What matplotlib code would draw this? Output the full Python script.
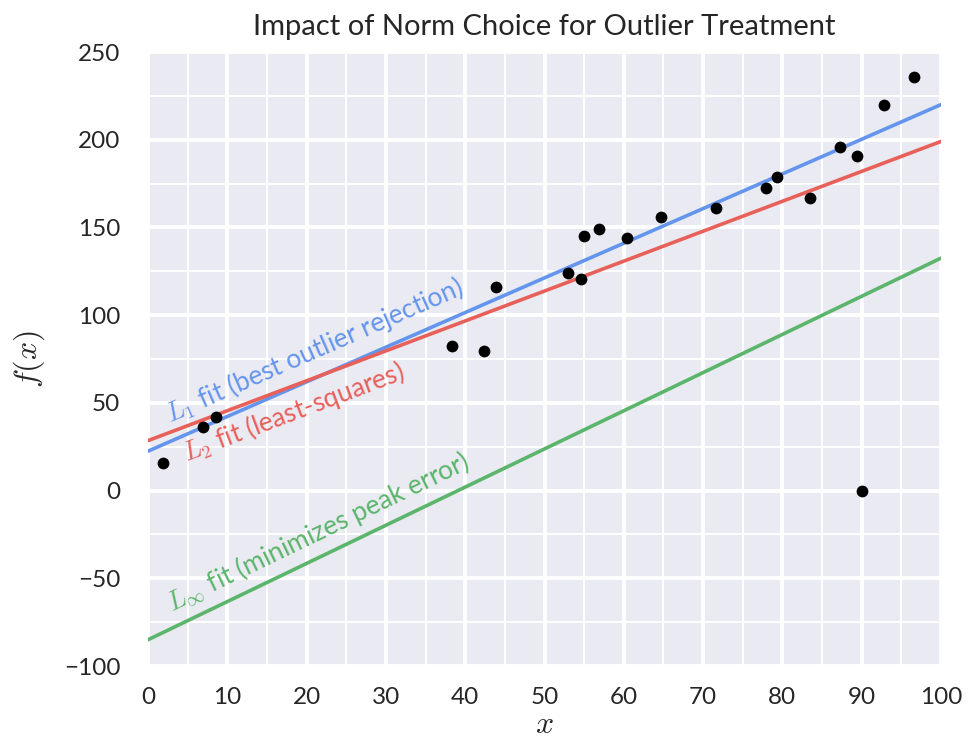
import numpy as np
import matplotlib
matplotlib.use("Agg")
import matplotlib.pyplot as plt
from matplotlib.ticker import MultipleLocator
import seaborn as sns

sns.set_theme(style="darkgrid")
plt.rcParams['font.family'] = ['Lato', 'DejaVu Sans']
plt.rcParams['mathtext.fontset'] = 'cm'

# data points
x_pts = [1.9, 6.9, 8.6, 38.3, 42.4, 43.9, 53.0, 54.6, 55.0, 56.9, 60.4, 64.7,
         71.6, 77.9, 79.3, 83.5, 87.3, 89.4, 90.0, 92.8, 96.6]
y_pts = [15.5, 36.5, 42.0, 82.5, 79.5, 116.0, 124.0, 120.5, 145.0, 149.0, 144.0, 156.0,
         161.0, 172.5, 179.0, 167.0, 196.0, 191.0, 0.0, 220.0, 235.5]

# fitted lines: intercept, slope
fit_names = ["L1", "L2", "Linf"]
fit_intercepts = [22.5, 28.5, -85.0]
fit_slopes = [1.975, 1.705, 2.175]
fit_colors = ["#6495ED", "#E8605A", "#5BB56B"]
fit_labels = [r"$L_1$ fit (best outlier rejection)",
              r"$L_2$ fit (least-squares)",
              r"$L_\infty$ fit (minimizes peak error)"]
label_x = [2.8, 4.9, 3.0]
label_offset = [11.0, -20.5, 9.5]

fig = plt.figure(figsize=(9.68, 7.43), dpi=100)
ax = fig.add_axes([0.153, 0.1036, 0.819, 0.8264])
ax.set_facecolor("#EAEAF2")

xs = np.array([0, 100])
for b, m, c in zip(fit_intercepts, fit_slopes, fit_colors):
    ax.plot(xs, b + m * xs, color=c, lw=2.6, zorder=3)

ax.scatter(x_pts, y_pts, s=72, color="black", zorder=4, linewidths=0)

for lab, b, m, c, lx, off in zip(fit_labels, fit_intercepts, fit_slopes, fit_colors, label_x, label_offset):
    ang = np.degrees(np.arctan(m))
    ly = b + m * lx + off
    ax.text(lx, ly, lab, color=c, fontsize=19, rotation=ang,
            rotation_mode='anchor', transform_rotates_text=True,
            ha='left', va='baseline', zorder=5)

ax.set_xlim(0, 100)
ax.set_ylim(-100, 250)
ax.xaxis.set_major_locator(MultipleLocator(10))
ax.yaxis.set_major_locator(MultipleLocator(50))
ax.xaxis.set_minor_locator(MultipleLocator(5))
ax.yaxis.set_minor_locator(MultipleLocator(25))
ax.grid(which='major', color='white', lw=2.8)
ax.grid(which='minor', color='white', lw=1.4)
ax.tick_params(axis='both', which='both', length=0, labelsize=17.5, colors='#262626')
ax.tick_params(axis='x', pad=15)
ax.tick_params(axis='y', pad=20)
for s in ax.spines.values():
    s.set_visible(False)

ax.set_xlabel(r"$x$", fontsize=23, labelpad=1)
ax.set_ylabel(r"$f(x)$", fontsize=23, labelpad=12)
ax.set_title("Impact of Norm Choice for Outlier Treatment", fontsize=21, pad=12, color='#262626')

fig.savefig("out.png", dpi=100)
